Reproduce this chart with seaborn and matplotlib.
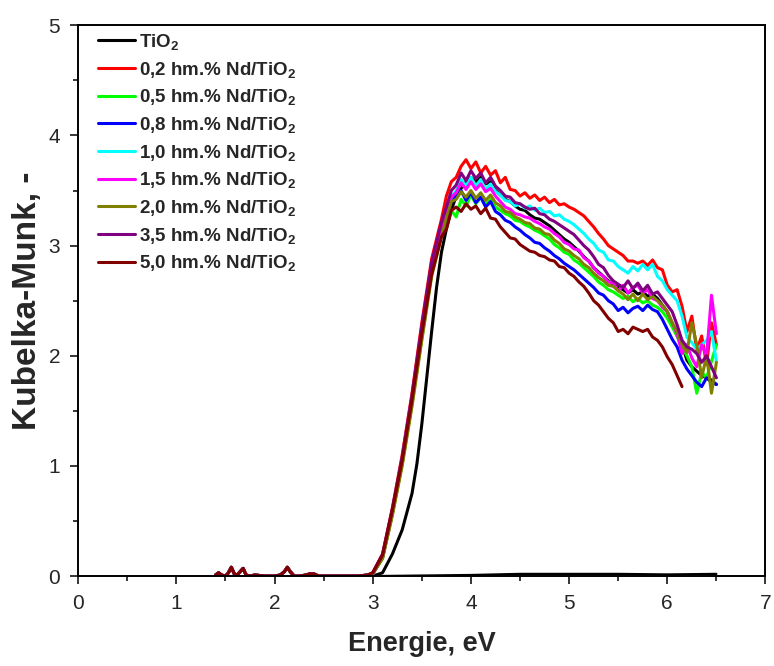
import numpy as np
import pandas as pd
import matplotlib
matplotlib.use("Agg")
import matplotlib.pyplot as plt
from matplotlib.ticker import MultipleLocator
import seaborn as sns

# ---------------- data ----------------
samples = ["TiO2", "0,2", "0,5", "0,8", "1,0", "1,5", "2,0", "3,5", "5,0"]
legend_labels = [r"TiO$_\mathbf{2}$"] + [f"{s} hm.% Nd/TiO$_\\mathbf{{2}}$" for s in samples[1:]]
colors = ["#000000", "#FF0000", "#00FF00", "#0000FF", "#00FFFF",
          "#FF00FF", "#808000", "#800080", "#800000"]

# low-energy baseline of doped samples
E_base = [1.40, 1.43, 1.46, 1.50, 1.53, 1.56, 1.59, 1.62, 1.65, 1.68, 1.71, 1.75,
          1.80, 1.90, 2.00, 2.06, 2.10, 2.13, 2.16, 2.20, 2.26, 2.32, 2.36, 2.40,
          2.45, 2.55, 2.70, 2.85, 2.95]
K_base = [0.01, 0.03, 0.01, 0.00, 0.03, 0.08, 0.02, 0.01, 0.04, 0.07, 0.01, 0.00,
          0.01, 0.00, 0.00, 0.01, 0.04, 0.08, 0.04, 0.00, 0.00, 0.01, 0.02, 0.02,
          0.00, 0.00, 0.00, 0.00, 0.01]

E_rise = [3.0, 3.1, 3.2, 3.3, 3.4, 3.5, 3.6, 3.7]
E_main = [3.75, 3.80, 3.85, 3.90, 3.95, 4.00, 4.05, 4.10, 4.15, 4.20,
          4.25, 4.30, 4.35, 4.40, 4.45, 4.50, 4.55, 4.60, 4.65, 4.70,
          4.75, 4.80, 4.85, 4.90, 4.95, 5.00, 5.05, 5.10, 5.15, 5.20,
          5.25, 5.30, 5.35, 5.40, 5.45, 5.50, 5.55, 5.60, 5.65, 5.70,
          5.75, 5.80, 5.85, 5.90, 5.95, 6.00, 6.05, 6.10, 6.15, 6.20,
          6.25, 6.30, 6.35, 6.40, 6.45, 6.50]

E_rise_tio2 = [3.0, 3.1, 3.2, 3.3, 3.4, 3.45, 3.5, 3.55, 3.6, 3.65, 3.7]
tio2_rise = [0.00, 0.03, 0.20, 0.42, 0.75, 1.02, 1.38, 1.80, 2.22, 2.62, 2.94]
tio2_main = [3.15, 3.32, 3.45, 3.52, 3.58, 3.62, 3.58, 3.62, 3.56, 3.58,
             3.50, 3.46, 3.42, 3.40, 3.36, 3.33, 3.32, 3.28, 3.25, 3.24,
             3.21, 3.18, 3.14, 3.10, 3.06, 3.03, 2.99, 2.95, 2.90, 2.86,
             2.80, 2.76, 2.72, 2.68, 2.65, 2.62, 2.60, 2.57, 2.60, 2.56,
             2.58, 2.54, 2.56, 2.52, 2.46, 2.40, 2.28, 2.18, 2.10, 1.96,
             1.90, 1.86, 1.82, 1.80, 1.76, 1.74]

# flat black trace near zero
E_tio2_flat = [3.0, 3.5, 4.0, 4.5, 5.0, 5.5, 6.0, 6.5]
K_tio2_flat = [0.00, 0.005, 0.01, 0.02, 0.02, 0.02, 0.015, 0.02]

rise_02 = [0.03, 0.20, 0.62, 1.10, 1.66, 2.30, 2.88, 3.24]
main_02 = [3.45, 3.58, 3.62, 3.72, 3.78, 3.70, 3.76, 3.66, 3.72, 3.64,
           3.68, 3.57, 3.62, 3.51, 3.50, 3.45, 3.48, 3.43, 3.46, 3.41,
           3.44, 3.39, 3.42, 3.37, 3.38, 3.35, 3.33, 3.30, 3.27, 3.22,
           3.17, 3.11, 3.06, 3.00, 2.97, 2.94, 2.91, 2.86, 2.86, 2.84,
           2.86, 2.82, 2.87, 2.80, 2.78, 2.64, 2.58, 2.60, 2.45, 2.22,
           2.36, 2.05, 2.18, 1.92, 2.30, 2.10]

rise_05 = [0.02, 0.16, 0.56, 1.02, 1.56, 2.16, 2.74, 3.10]
main_05 = [3.20, 3.32, 3.26, 3.42, 3.36, 3.46, 3.38, 3.44, 3.37, 3.42,
           3.35, 3.32, 3.29, 3.27, 3.23, 3.22, 3.19, 3.17, 3.14, 3.12,
           3.09, 3.06, 3.01, 2.98, 2.94, 2.92, 2.87, 2.84, 2.80, 2.76,
           2.72, 2.67, 2.64, 2.60, 2.58, 2.55, 2.52, 2.54, 2.49, 2.52,
           2.48, 2.50, 2.46, 2.44, 2.40, 2.34, 2.26, 2.18, 2.08, 2.00,
           1.90, 1.66, 1.85, 1.80, 1.95, 2.10]

rise_08 = [0.02, 0.17, 0.58, 1.04, 1.60, 2.20, 2.78, 3.14]
main_08 = [3.25, 3.40, 3.45, 3.50, 3.41, 3.48, 3.39, 3.44, 3.35, 3.40,
           3.31, 3.28, 3.23, 3.21, 3.17, 3.14, 3.10, 3.07, 3.03, 3.02,
           2.98, 2.95, 2.91, 2.88, 2.84, 2.81, 2.78, 2.74, 2.70, 2.66,
           2.62, 2.57, 2.55, 2.50, 2.47, 2.41, 2.44, 2.39, 2.43, 2.45,
           2.41, 2.46, 2.42, 2.40, 2.33, 2.24, 2.15, 2.08, 1.96, 1.88,
           1.82, 1.76, 1.72, 1.80, 1.78, 1.74]

rise_10 = [0.02, 0.18, 0.59, 1.06, 1.61, 2.22, 2.80, 3.16]
main_10 = [3.30, 3.44, 3.50, 3.60, 3.54, 3.62, 3.54, 3.60, 3.51, 3.56,
           3.49, 3.46, 3.41, 3.40, 3.36, 3.38, 3.34, 3.36, 3.32, 3.34,
           3.30, 3.31, 3.27, 3.28, 3.24, 3.22, 3.19, 3.15, 3.11, 3.06,
           3.02, 2.96, 2.94, 2.87, 2.86, 2.81, 2.78, 2.75, 2.81, 2.77,
           2.83, 2.78, 2.83, 2.72, 2.68, 2.60, 2.55, 2.50, 2.36, 2.17,
           2.12, 2.06, 2.10, 2.14, 2.22, 1.95]

rise_15 = [0.02, 0.17, 0.57, 1.03, 1.58, 2.19, 2.77, 3.13]
main_15 = [3.30, 3.44, 3.48, 3.57, 3.51, 3.58, 3.51, 3.56, 3.49, 3.52,
           3.45, 3.40, 3.35, 3.33, 3.29, 3.28, 3.26, 3.25, 3.22, 3.20,
           3.17, 3.15, 3.11, 3.08, 3.03, 3.01, 2.97, 2.96, 2.89, 2.86,
           2.80, 2.75, 2.72, 2.67, 2.66, 2.59, 2.64, 2.57, 2.62, 2.64,
           2.57, 2.60, 2.52, 2.50, 2.44, 2.40, 2.30, 2.20, 2.02, 2.10,
           1.98, 1.90, 2.10, 2.00, 2.55, 2.20]

rise_20 = [0.02, 0.16, 0.55, 1.00, 1.54, 2.14, 2.72, 3.08]
main_20 = [3.25, 3.40, 3.42, 3.49, 3.44, 3.50, 3.43, 3.48, 3.41, 3.46,
           3.39, 3.36, 3.31, 3.30, 3.26, 3.24, 3.21, 3.20, 3.16, 3.15,
           3.11, 3.10, 3.05, 3.02, 2.97, 2.95, 2.91, 2.88, 2.83, 2.80,
           2.75, 2.71, 2.68, 2.64, 2.63, 2.59, 2.56, 2.51, 2.56, 2.50,
           2.56, 2.51, 2.54, 2.50, 2.46, 2.40, 2.30, 2.22, 2.10, 2.03,
           2.30, 2.10, 1.80, 2.00, 1.66, 1.94]

rise_35 = [0.03, 0.20, 0.61, 1.08, 1.64, 2.27, 2.85, 3.21]
main_35 = [3.35, 3.50, 3.55, 3.66, 3.59, 3.68, 3.61, 3.66, 3.57, 3.62,
           3.54, 3.50, 3.45, 3.44, 3.39, 3.38, 3.35, 3.33, 3.34, 3.29,
           3.28, 3.24, 3.22, 3.19, 3.16, 3.13, 3.10, 3.05, 3.00, 2.96,
           2.90, 2.83, 2.80, 2.73, 2.68, 2.65, 2.62, 2.68, 2.61, 2.66,
           2.59, 2.64, 2.56, 2.58, 2.52, 2.46, 2.40, 2.28, 2.14, 2.08,
           2.06, 2.02, 1.94, 2.00, 1.90, 1.80]

rise_50 = [0.03, 0.19, 0.60, 1.05, 1.60, 2.20, 2.74, 3.08]
main_50 = [3.15, 3.32, 3.35, 3.31, 3.38, 3.33, 3.36, 3.29, 3.34, 3.25,
           3.24, 3.17, 3.12, 3.07, 3.06, 3.01, 2.98, 2.95, 2.94, 2.91,
           2.90, 2.87, 2.86, 2.81, 2.80, 2.75, 2.72, 2.67, 2.63, 2.57,
           2.50, 2.46, 2.40, 2.34, 2.30, 2.22, 2.24, 2.20, 2.26, 2.24,
           2.22, 2.24, 2.17, 2.14, 2.08, 1.99, 1.92, 1.82, 1.72]

series = {
    "TiO2": (E_rise_tio2 + E_main, tio2_rise + tio2_main),
    "0,2": (E_base + E_rise + E_main, K_base + rise_02 + main_02),
    "0,5": (E_base + E_rise + E_main, K_base + rise_05 + main_05),
    "0,8": (E_base + E_rise + E_main, K_base + rise_08 + main_08),
    "1,0": (E_base + E_rise + E_main, K_base + rise_10 + main_10),
    "1,5": (E_base + E_rise + E_main, K_base + rise_15 + main_15),
    "2,0": (E_base + E_rise + E_main, K_base + rise_20 + main_20),
    "3,5": (E_base + E_rise + E_main, K_base + rise_35 + main_35),
    "5,0": (E_base + E_rise + E_main[:len(main_50)], K_base + rise_50 + main_50),
}

frames = []
for s, lab in zip(samples, legend_labels):
    e, k = series[s]
    frames.append(pd.DataFrame({"E": e, "K": k, "sample": lab}))
df = pd.concat(frames, ignore_index=True)

# ---------------- plot ----------------
sns.set_style("ticks")
plt.rcParams["font.family"] = ["Liberation Sans", "DejaVu Sans"]
plt.rcParams["mathtext.fontset"] = "custom"
plt.rcParams["mathtext.rm"] = "Liberation Sans"
plt.rcParams["mathtext.bf"] = "Liberation Sans:bold"
plt.rcParams["mathtext.it"] = "Liberation Sans:italic"

fig = plt.figure(figsize=(7.74, 6.66), dpi=100)
ax = fig.add_axes([0.101, 0.135, 0.888, 0.827])

sns.lineplot(data=pd.DataFrame({"E": E_tio2_flat, "K": K_tio2_flat}), x="E", y="K",
             color="black", linewidth=1.6, sort=False, estimator=None,
             legend=False, ax=ax)
sns.lineplot(data=df, x="E", y="K", hue="sample", hue_order=legend_labels,
             palette=dict(zip(legend_labels, colors)), linewidth=2.2,
             sort=False, estimator=None, ax=ax)

ax.set_xlim(0, 7)
ax.set_ylim(0, 5)
ax.xaxis.set_major_locator(MultipleLocator(1))
ax.xaxis.set_minor_locator(MultipleLocator(0.5))
ax.yaxis.set_major_locator(MultipleLocator(1))
ax.yaxis.set_minor_locator(MultipleLocator(0.5))
ax.tick_params(which="major", direction="out", length=6, width=1.3,
               labelsize=15, pad=7)
ax.tick_params(which="minor", direction="out", length=3.5, width=1.3)
for sp in ax.spines.values():
    sp.set_visible(True)
    sp.set_linewidth(1.4)
    sp.set_color("black")

ax.set_xlabel("Energie, eV", fontsize=19.5, fontweight="bold", labelpad=13)
ax.set_ylabel("Kubelka-Munk, -", fontsize=24, fontweight="bold", labelpad=4)

handles, labels = ax.get_legend_handles_labels()
ax.legend(handles, labels, loc="upper left", bbox_to_anchor=(0.01, 1.012),
          frameon=False, prop={"weight": "bold", "size": 13.5},
          handlelength=1.95, handletextpad=0.25, labelspacing=0.41,
          borderaxespad=0.3)
for line in ax.get_legend().get_lines():
    line.set_linewidth(2.2)

fig.savefig("out.png", dpi=100)
